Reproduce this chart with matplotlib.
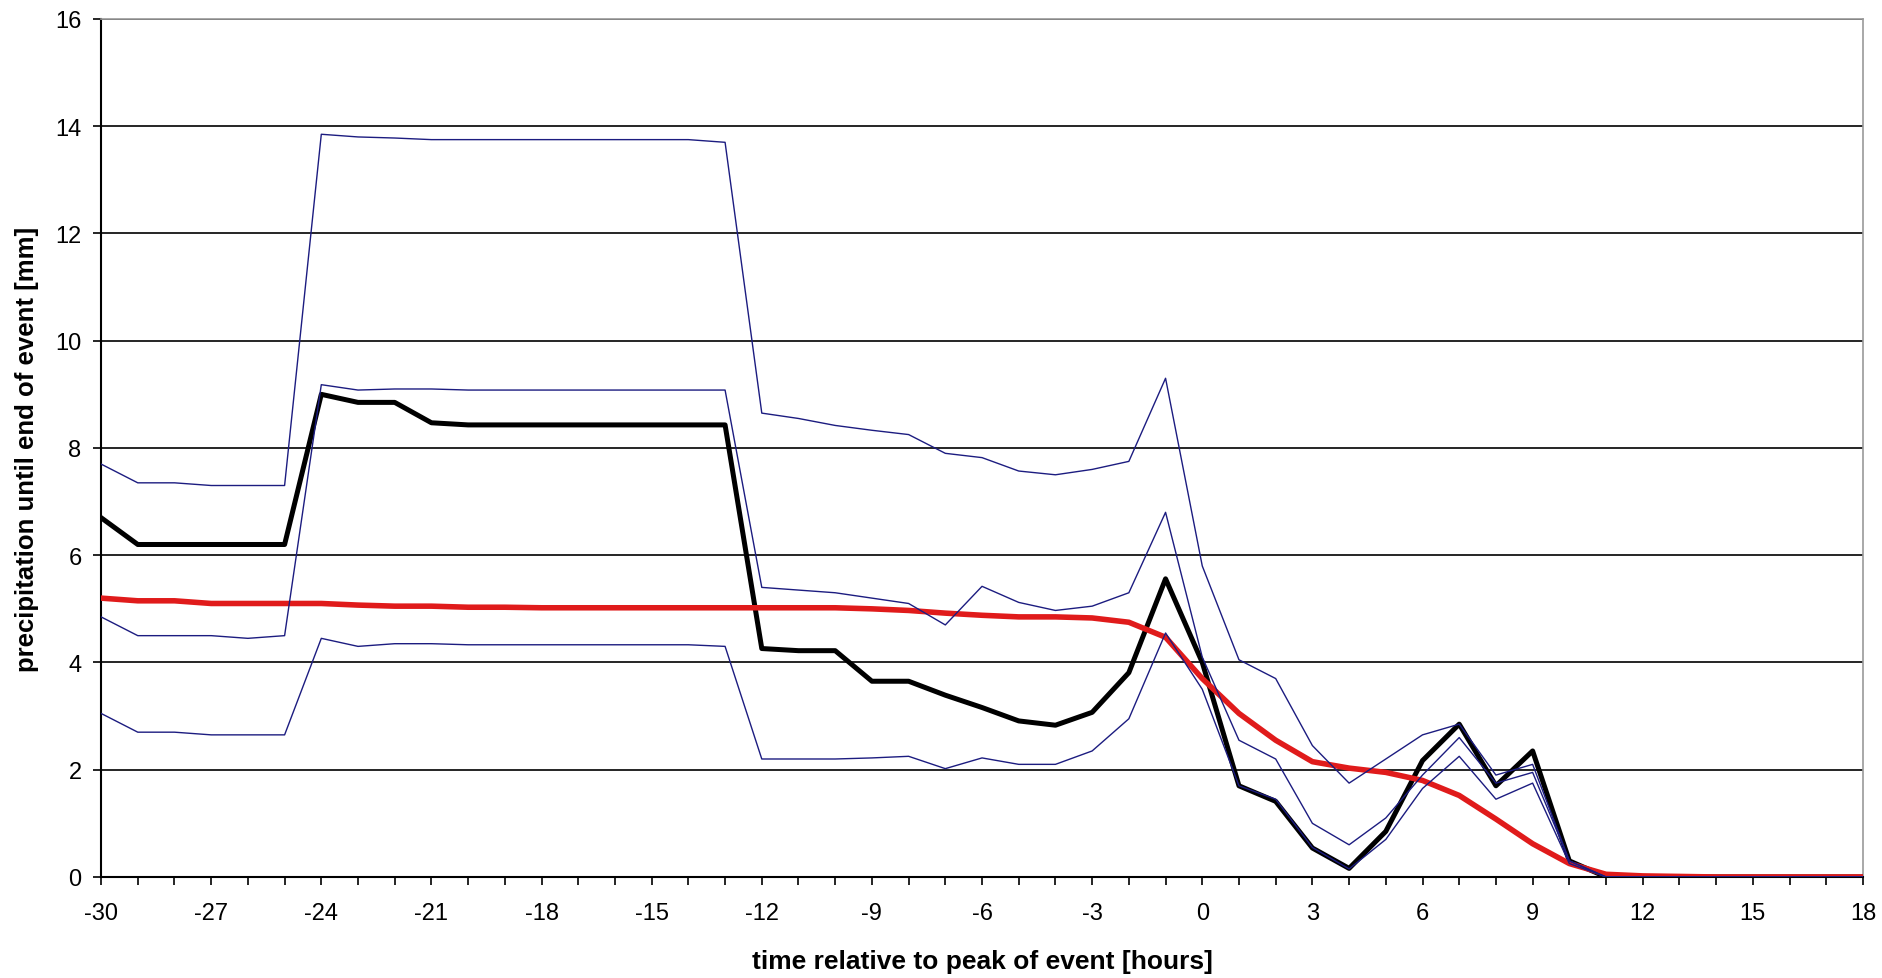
import matplotlib.pyplot as plt
import numpy as np

hours = np.arange(-30, 19)

# median of the events
median = [6.7, 6.2, 6.2, 6.2, 6.2, 6.2,
          9.0, 8.85, 8.85, 8.47, 8.43, 8.43, 8.43, 8.43, 8.43, 8.43, 8.43, 8.43,
          4.26, 4.22, 4.22, 3.65, 3.65, 3.39, 3.16, 2.91, 2.83, 3.07, 3.81, 5.56,
          4.0, 1.7, 1.41, 0.54, 0.16, 0.85, 2.17, 2.85, 1.7, 2.35, 0.3,
          0, 0, 0, 0, 0, 0, 0, 0]

# spread of the events
upper = [7.7, 7.35, 7.35, 7.3, 7.3, 7.3,
         13.85, 13.8, 13.78, 13.75, 13.75, 13.75, 13.75, 13.75, 13.75, 13.75, 13.75, 13.7,
         8.65, 8.55, 8.42, 8.33, 8.25, 7.9, 7.82, 7.57, 7.5, 7.6, 7.75, 9.3,
         5.8, 4.05, 3.7, 2.45, 1.75, 2.2, 2.65, 2.85, 1.9, 2.1, 0.3,
         0, 0, 0, 0, 0, 0, 0, 0]
middle = [4.85, 4.5, 4.5, 4.5, 4.45, 4.5,
          9.18, 9.08, 9.1, 9.1, 9.08, 9.08, 9.08, 9.08, 9.08, 9.08, 9.08, 9.08,
          5.4, 5.35, 5.3, 5.2, 5.1, 4.7, 5.42, 5.12, 4.97, 5.05, 5.3, 6.8,
          4.1, 2.55, 2.2, 1.0, 0.6, 1.1, 1.9, 2.6, 1.75, 1.95, 0.3,
          0, 0, 0, 0, 0, 0, 0, 0]
lower = [3.05, 2.7, 2.7, 2.65, 2.65, 2.65,
         4.45, 4.3, 4.35, 4.35, 4.33, 4.33, 4.33, 4.33, 4.33, 4.33, 4.33, 4.3,
         2.2, 2.2, 2.2, 2.22, 2.25, 2.02, 2.22, 2.1, 2.1, 2.35, 2.95, 4.55,
         3.5, 1.7, 1.45, 0.55, 0.15, 0.7, 1.65, 2.25, 1.45, 1.75, 0.25,
         0, 0, 0, 0, 0, 0, 0, 0]

# mean over all events
mean = [5.2, 5.15, 5.15, 5.1, 5.1, 5.1,
        5.1, 5.07, 5.05, 5.05, 5.03, 5.03, 5.02, 5.02, 5.02, 5.02, 5.02, 5.02,
        5.02, 5.02, 5.02, 5.0, 4.97, 4.92, 4.88, 4.85, 4.85, 4.83, 4.75, 4.47,
        3.7, 3.05, 2.55, 2.15, 2.03, 1.95, 1.8, 1.52, 1.08, 0.62, 0.25,
        0.05, 0.02, 0.01, 0, 0, 0, 0, 0]

plt.rcParams['font.family'] = ['Liberation Sans', 'DejaVu Sans']
plt.rcParams['axes.unicode_minus'] = False

fig = plt.figure(figsize=(18.82, 9.79), dpi=100)
ax = fig.add_axes([0.0537, 0.1032, 0.9362, 0.8764])

ax.plot(hours, median, color='black', lw=3.6, zorder=3)
ax.plot(hours, mean, color='#e01b1b', lw=4.0, zorder=4)
for s in (upper, middle, lower):
    ax.plot(hours, s, color='#1c1c80', lw=1.0, zorder=5)

ax.set_xlim(-30, 18)
ax.set_ylim(0, 16)
ax.set_xticks(np.arange(-30, 19, 3))
ax.set_xticks(np.arange(-30, 19, 1), minor=True)
ax.set_yticks(np.arange(0, 17, 2))
ax.grid(axis='y', color='black', lw=1.2)
ax.set_axisbelow(True)

ax.tick_params(axis='both', which='both', direction='out', length=6, width=1.2,
               labelsize=17, color='black')
ax.tick_params(axis='x', pad=12)
ax.tick_params(axis='y', pad=8)

for side in ('top', 'right'):
    ax.spines[side].set_color('#9a9a9a')
    ax.spines[side].set_linewidth(1.2)
for side in ('left', 'bottom'):
    ax.spines[side].set_color('black')
    ax.spines[side].set_linewidth(1.5)

ax.set_xlabel('time relative to peak of event [hours]', fontsize=19,
              fontweight='bold', labelpad=18)
ax.set_ylabel('precipitation until end of event [mm]', fontsize=18.5,
              fontweight='bold', labelpad=12)

fig.savefig('out.png', dpi=100)
